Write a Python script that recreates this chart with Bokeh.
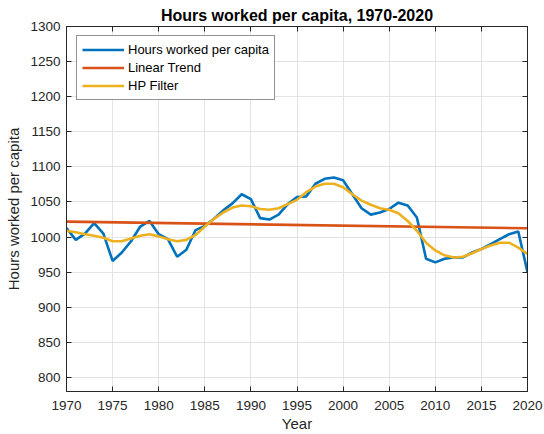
from bokeh.plotting import figure
from bokeh.models import (ColumnDataSource, FixedTicker, LinearAxis, Range1d,
                          Legend, LegendItem)
from bokeh.embed import file_html
from bokeh.resources import INLINE

# Annual series, 1970-2020
years = list(range(1970, 2021))
hours = [1013, 996, 1005, 1020, 1005, 966, 978, 994, 1015, 1023,
         1004, 997, 972, 982, 1010, 1016, 1026, 1038, 1048, 1061,
         1054, 1027, 1025, 1032, 1047, 1057, 1058, 1076, 1083, 1085,
         1081, 1061, 1041, 1032, 1035, 1040, 1049, 1045, 1028, 969,
         964, 969, 971, 971, 978, 983, 990, 997, 1004, 1008,
         950]
hp_filter = [1009, 1007, 1004, 1002, 999, 994, 994, 998, 1002, 1004,
             1001, 997, 994, 996, 1003, 1015, 1026, 1035, 1042, 1045,
             1044, 1040, 1039, 1041, 1047, 1053, 1064, 1072, 1076, 1076,
             1071, 1061, 1052, 1046, 1041, 1039, 1034, 1023, 1009, 992,
             981, 974, 971, 972, 977, 983, 988, 992, 992, 985,
             976]
trend_years = [1970, 2020]
trend_values = [1022, 1012.5]

x_ticks = list(range(1970, 2021, 5))
y_ticks = list(range(800, 1301, 50))

BLUE = "#0072BD"
RED = "#D95319"
YELLOW = "#EDB120"
AXIS = "#262626"
FONT = "Liberation Sans"

p = figure(width=544, height=434, output_backend="svg", toolbar_location=None,
           x_range=Range1d(1970, 2020), y_range=Range1d(780, 1300),
           min_border_left=66, min_border_right=17, min_border_top=26,
           min_border_bottom=43)

p.title.text = "Hours worked per capita, 1970-2020"
p.title.text_font = FONT
p.title.text_font_size = "16px"
p.title.text_font_style = "bold"
p.title.text_color = "#000000"
p.title.align = "center"
p.title.offset = 0
p.title.standoff = 6

src = ColumnDataSource(dict(year=years, hours=hours, hp=hp_filter))
tsrc = ColumnDataSource(dict(year=trend_years, val=trend_values))

r_hours = p.line("year", "hours", source=src, color=BLUE, line_width=2.6)
r_trend = p.line("year", "val", source=tsrc, color=RED, line_width=2.6)
r_hp = p.line("year", "hp", source=src, color=YELLOW, line_width=2.6)


def style_axis(ax, show_labels):
    ax.axis_line_color = AXIS
    ax.axis_line_width = 1
    ax.major_tick_line_color = AXIS
    ax.major_tick_in = 5
    ax.major_tick_out = 0
    ax.minor_tick_line_color = None
    ax.major_label_text_font = FONT
    ax.major_label_text_font_size = "13.5px"
    ax.major_label_text_color = AXIS
    ax.axis_label_text_font = FONT
    ax.axis_label_text_font_size = "15px"
    ax.axis_label_text_font_style = "normal"
    ax.axis_label_text_color = AXIS
    if not show_labels:
        ax.major_label_text_font_size = "0px"
        ax.major_label_text_alpha = 0


xa = p.xaxis[0]
ya = p.yaxis[0]
xa.ticker = FixedTicker(ticks=x_ticks)
ya.ticker = FixedTicker(ticks=y_ticks)
xa.axis_label = "Year"
ya.axis_label = "Hours worked per capita"
style_axis(xa, True)
style_axis(ya, True)
xa.major_label_standoff = 9
ya.major_label_standoff = 6
xa.axis_label_standoff = 2
ya.axis_label_standoff = 5

top_ax = LinearAxis(ticker=FixedTicker(ticks=x_ticks))
right_ax = LinearAxis(ticker=FixedTicker(ticks=y_ticks))
style_axis(top_ax, False)
style_axis(right_ax, False)
top_ax.major_label_standoff = 0
right_ax.major_label_standoff = 0
p.add_layout(top_ax, "above")
p.add_layout(right_ax, "right")

p.xgrid.ticker = FixedTicker(ticks=x_ticks)
p.ygrid.ticker = FixedTicker(ticks=y_ticks)
for g in (p.xgrid[0], p.ygrid[0]):
    g.grid_line_color = "#e3e3e3"
    g.grid_line_width = 1

p.outline_line_color = AXIS
p.outline_line_width = 1
p.background_fill_color = "white"
p.border_fill_color = "white"

legend = Legend(items=[
    LegendItem(label="Hours worked per capita", renderers=[r_hours]),
    LegendItem(label="Linear Trend", renderers=[r_trend]),
    LegendItem(label="HP Filter", renderers=[r_hp]),
], location=(10, 291))
legend.label_text_font = FONT
legend.label_text_font_size = "13px"
legend.label_text_color = "#000000"
legend.glyph_width = 42
legend.glyph_height = 17
legend.label_height = 17
legend.label_standoff = 4
legend.spacing = 1
legend.padding = 5
legend.margin = 0
legend.border_line_color = AXIS
legend.border_line_width = 1
legend.background_fill_color = "white"
legend.background_fill_alpha = 1
p.add_layout(legend, "center")

open("out.html", "w").write(file_html(p, INLINE))
